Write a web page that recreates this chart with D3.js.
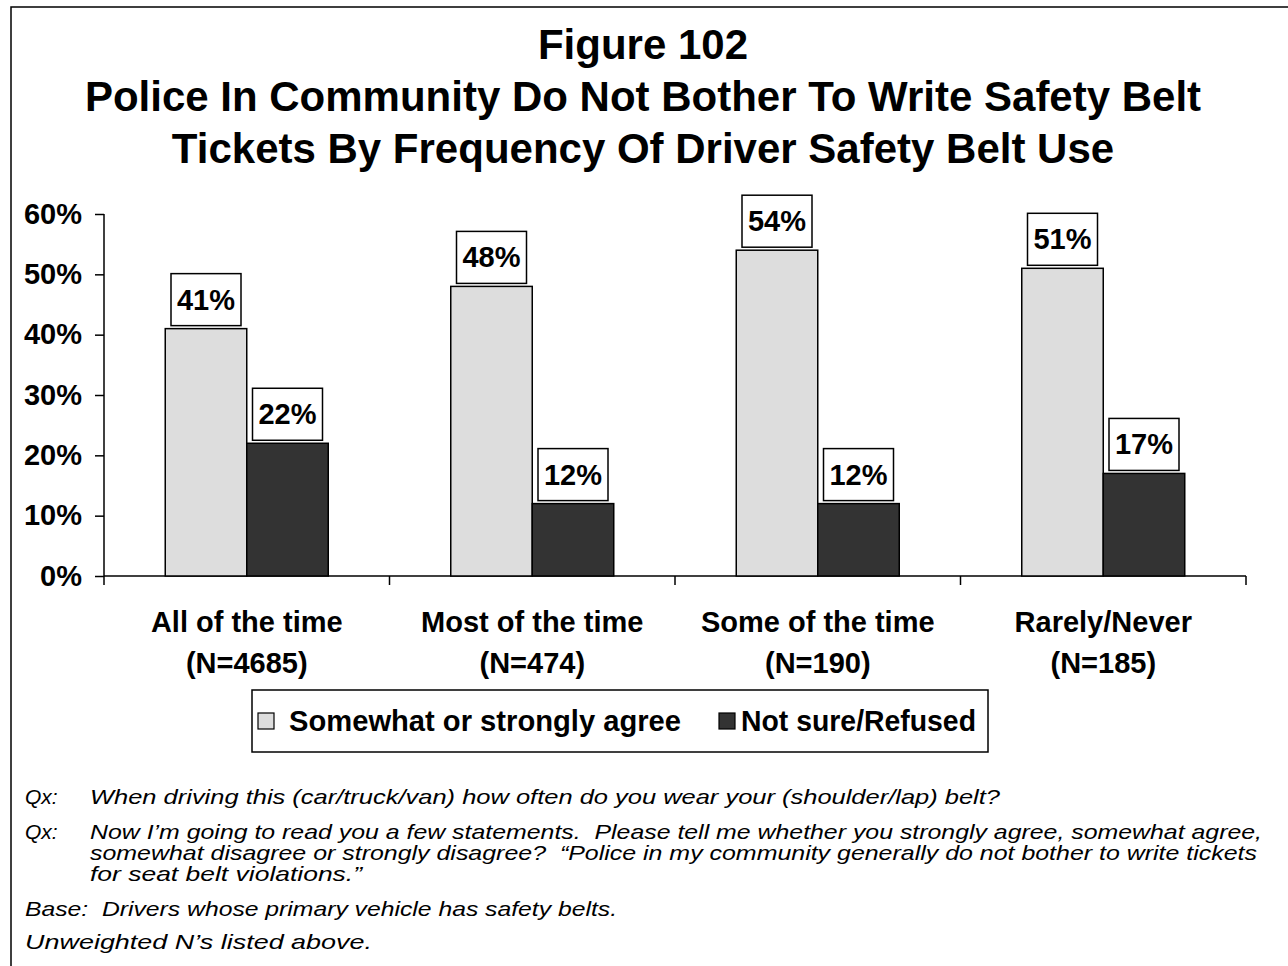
<!DOCTYPE html>
<html><head><meta charset="utf-8">
<script src="https://cdn.jsdelivr.net/npm/d3@7"></script>
<style>body{margin:0;background:#fff}svg{display:block}text{white-space:pre}</style>
</head><body>
<script>
const categories = ["All of the time", "Most of the time", "Some of the time", "Rarely/Never"];
const sampleSizes = ["(N=4685)", "(N=474)", "(N=190)", "(N=185)"];
const seriesNames = ["Somewhat or strongly agree", "Not sure/Refused"];
const agreeValues = [41, 48, 54, 51];
const notSureValues = [22, 12, 12, 17];
const yTicks = [0, 10, 20, 30, 40, 50, 60];
const titleLines = ["Figure 102", "Police In Community Do Not Bother To Write Safety Belt", "Tickets By Frequency Of Driver Safety Belt Use"];
const notes = [
  {lead: "Qx:", lines: ["When driving this (car/truck/van) how often do you wear your (shoulder/lap) belt?"]},
  {lead: "Qx:", lines: ["Now I\u2019m going to read you a few statements.  Please tell me whether you strongly agree, somewhat agree,", "somewhat disagree or strongly disagree?  \u201cPolice in my community generally do not bother to write tickets", "for seat belt violations.\u201d"]},
  {lead: "", lines: ["Base:  Drivers whose primary vehicle has safety belts."]},
  {lead: "", lines: ["Unweighted N\u2019s listed above."]}
];

const W = 1288, H = 966;
const colors = ["#dddddd", "#333333"];
const svg = d3.select("body").append("svg").attr("width", W).attr("height", H);
const font = "Arial, 'Liberation Sans', sans-serif";

// outer frame (top and left visible)
svg.append("path").attr("d", `M11,${H} L11,7 L${W},7`).attr("fill", "none").attr("stroke", "#000").attr("stroke-width", 1.5);

// title
svg.append("g").selectAll("text").data(titleLines).join("text")
  .attr("x", 643).attr("y", (d, i) => 59 + i * 52)
  .attr("text-anchor", "middle").attr("font-family", font).attr("font-weight", "bold")
  .attr("font-size", 42).text(d => d);

const x0 = d3.scaleBand().domain(categories).range([104, 1246]).paddingInner(0).paddingOuter(0);
const x1 = d3.scaleBand().domain([0, 1]).range([0, 163]);
const y = d3.scaleLinear().domain([0, 60]).range([576, 214]);
const groupOffset = (x0.bandwidth() - 163) / 2;

// y axis
const yAxis = svg.append("g").attr("transform", "translate(104,0)")
  .call(d3.axisLeft(y).tickValues(yTicks).tickFormat(d => d + "%").tickSize(9).tickPadding(13));
yAxis.select(".domain").attr("stroke-width", 1.5).attr("d", `M0,${y(60)}V${y(0)}`);
yAxis.selectAll(".tick line").attr("stroke-width", 1.5);
yAxis.selectAll("text").attr("font-family", font).attr("font-weight", "bold").attr("font-size", 29).attr("fill", "#000");

// x axis with category boundary ticks
const xAxisG = svg.append("g").attr("transform", "translate(0,576)");
xAxisG.append("line").attr("x1", 104).attr("x2", 1246).attr("stroke", "#000").attr("stroke-width", 1.5);
const boundaries = categories.map(c => x0(c)).concat([x0(categories[categories.length - 1]) + x0.bandwidth()]);
xAxisG.selectAll(".bt").data(boundaries).join("line").attr("class", "bt")
  .attr("x1", d => d).attr("x2", d => d).attr("y1", 0).attr("y2", 9)
  .attr("stroke", "#000").attr("stroke-width", 1.5);

// category labels
const catG = svg.append("g").selectAll("g").data(categories).join("g")
  .attr("transform", d => `translate(${x0(d) + x0.bandwidth() / 2},0)`);
catG.append("text").attr("y", 632).text(d => d);
catG.append("text").attr("y", 673).text((d, i) => sampleSizes[i]);
catG.selectAll("text").attr("text-anchor", "middle").attr("font-family", font)
  .attr("font-weight", "bold").attr("font-size", 29);

// bars
const rows = categories.map((c, i) => ({c, vals: [agreeValues[i], notSureValues[i]]}));
const grp = svg.append("g").selectAll("g").data(rows).join("g")
  .attr("transform", d => `translate(${x0(d.c) + groupOffset},0)`);
grp.selectAll("rect").data(d => d.vals).join("rect")
  .attr("x", (d, i) => x1(i)).attr("width", x1.bandwidth())
  .attr("y", d => y(d)).attr("height", d => y(0) - y(d))
  .attr("fill", (d, i) => colors[i]).attr("stroke", "#000").attr("stroke-width", 1.5);

// value labels with boxes
const lab = grp.selectAll("g.lab").data(d => d.vals).join("g").attr("class", "lab")
  .attr("transform", (d, i) => `translate(${x1(i) + x1.bandwidth() / 2},${y(d) - 3})`);
lab.append("rect").attr("x", -35).attr("y", -52).attr("width", 70).attr("height", 52)
  .attr("fill", "#fff").attr("stroke", "#000").attr("stroke-width", 1.5);
lab.append("text").attr("y", -16).attr("text-anchor", "middle").attr("font-family", font)
  .attr("font-weight", "bold").attr("font-size", 29).text(d => d + "%");

// legend
const leg = svg.append("g");
leg.append("rect").attr("x", 252).attr("y", 690).attr("width", 736).attr("height", 62)
  .attr("fill", "#fff").attr("stroke", "#000").attr("stroke-width", 1.5);
const legX = [258, 719];
const li = leg.selectAll("g.li").data(seriesNames).join("g").attr("class", "li")
  .attr("transform", (d, i) => `translate(${legX[i]},0)`);
li.append("rect").attr("x", 0).attr("y", 713).attr("width", 16).attr("height", 16)
  .attr("fill", (d, i) => colors[i]).attr("stroke", "#000").attr("stroke-width", 1.2);
li.append("text").attr("x", (d, i) => i === 0 ? 31 : 22).attr("y", 731)
  .attr("font-family", font).attr("font-weight", "bold").attr("font-size", 29)
  .attr("textLength", (d, i) => i === 0 ? 392 : 235).attr("lengthAdjust", "spacingAndGlyphs").text(d => d);

// footnotes
const noteFont = "'Liberation Sans Narrow', 'Arial Narrow', Arial, sans-serif";
const noteY = [[804], [839, 860, 881], [916], [949]];
const noteEnds = [[1000], [1262, 1257, 362], [617], [372]];
const nG = svg.append("g").attr("font-family", noteFont).attr("font-style", "italic").attr("font-size", 21);
notes.forEach((n, ni) => {
  if (n.lead) nG.append("text").attr("x", 25).attr("y", noteY[ni][0]).text(n.lead);
  n.lines.forEach((l, li2) => {
    const sx = n.lead ? 90 : 25;
    nG.append("text").attr("x", sx).attr("y", noteY[ni][li2])
      .attr("textLength", noteEnds[ni][li2] - sx).attr("lengthAdjust", "spacingAndGlyphs").text(l);
  });
});
</script>
</body></html>
